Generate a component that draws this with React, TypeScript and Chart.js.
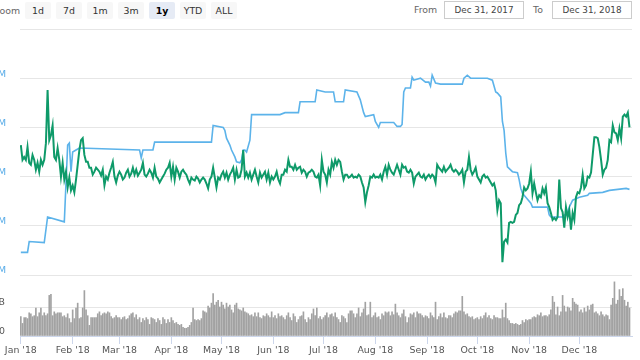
import React, { useEffect, useRef } from "react";
import { Chart, registerables } from "chart.js";

Chart.register(...registerables);

const FONT = "DejaVu Sans";
const GREEN = "#0e9a69";
const BLUE = "#5cb3ea";

// x axis: day index, 0 = Jan 1 2018
const monthStarts = [0, 31, 59, 90, 120, 151, 181, 212, 243, 273, 304, 334];
const monthLabels = ["Jan '18", "Feb '18", "Mar '18", "Apr '18", "May '18", "Jun '18", "Jul '18", "Aug '18", "Sep '18", "Oct '18", "Nov '18", "Dec '18"];

const rangeButtons = ["1d", "7d", "1m", "3m", "1y", "YTD", "ALL"];
const selectedRange = "1y";
const fromDate = "Dec 31, 2017";
const toDate = "Dec 31, 2018";

const mainTicks = [0, 50, 100, 150, 200, 250];
const volumeTicks = [0, 30, 60];

// green series, one value per day (M)
const greenValues = [
  132, 117, 120, 117, 130, 114, 112, 122, 117, 107, 114, 105, 117, 112, 117, 134, 188, 137, 142, 152, 120, 117, 129, 117, 100, 114, 97, 105, 89, 99, 86,
  91, 84, 97, 112, 127, 137, 139, 122, 115, 115, 109, 109, 102, 105, 109, 107, 105, 101, 107, 91, 100, 97, 104, 109, 115, 100, 94, 101,
  105, 102, 97, 99, 104, 107, 100, 103, 109, 102, 107, 101, 104, 107, 114, 102, 100, 103, 107, 104, 99, 109, 100, 98, 94, 97, 100, 103, 107, 109, 114,
  100, 110, 97, 109, 105, 99, 105, 107, 104, 102, 97, 93, 99, 97, 96, 100, 98, 94, 97, 99, 97, 93, 88, 97, 100, 109, 99, 89, 99, 97,
  102, 105, 99, 104, 97, 102, 105, 109, 97, 107, 99, 100, 107, 127, 100, 104, 99, 104, 97, 102, 107, 100, 94, 104, 99, 102, 105, 97, 104, 94, 100,
  97, 100, 105, 97, 93, 102, 102, 107, 105, 117, 110, 110, 107, 112, 107, 109, 110, 104, 107, 105, 100, 104, 105, 107, 105, 100, 99, 102, 91, 117,
  105, 102, 94, 107, 102, 115, 109, 117, 112, 117, 115, 105, 97, 102, 102, 99, 100, 102, 99, 100, 99, 102, 100, 94, 89, 74, 84, 91, 100, 99, 102,
  99, 100, 99, 102, 97, 105, 110, 102, 112, 107, 104, 102, 107, 112, 107, 102, 112, 109, 110, 105, 104, 107, 104, 93, 100, 102, 104, 100, 99, 102, 97,
  100, 102, 99, 102, 100, 94, 112, 109, 107, 105, 110, 105, 107, 109, 112, 107, 105, 107, 105, 102, 104, 107, 94, 105, 107, 120, 107, 102, 105, 109,
  100, 97, 94, 100, 102, 99, 100, 97, 94, 91, 93, 86, 66, 76, 73, 13, 34, 36, 33, 53, 54, 53, 54, 61, 63, 71, 73, 79, 89, 86, 88,
  93, 105, 83, 93, 84, 76, 81, 79, 88, 83, 89, 73, 69, 63, 56, 58, 56, 59, 97, 68, 64, 48, 69, 59, 66, 46, 63, 56, 79, 84,
  83, 89, 102, 88, 91, 100, 99, 104, 122, 140, 140, 139, 130, 117, 102, 107, 109, 117, 137, 135, 152, 145, 144, 137, 149, 139, 161, 163, 161, 165, 150,
];

// blue series, values at the days where it changes (M)
const blueDays = [
  0, 4, 5, 14, 16, 26, 28, 29, 30, 31, 33, 35, 71, 72, 73, 79, 80, 114, 115, 121,
  122, 123, 125, 126, 128, 129, 131, 132, 133, 134, 135, 137, 138, 155, 158, 166, 167, 176, 177, 182,
  187, 188, 193, 194, 201, 203, 205, 206, 211, 212, 214, 215, 223, 225, 227, 228, 229, 230, 233, 234,
  235, 239, 242, 244, 245, 246, 248, 251, 264, 265, 267, 269, 279, 282, 284, 285, 287, 288, 289, 290,
  291, 294, 297, 298, 299, 300, 302, 305, 306, 315, 316, 317, 324, 327, 328, 330, 334, 339, 340, 348,
  352, 357, 362, 364,
];
const blueValues = [
  23, 23, 34, 33, 59, 54, 132, 134, 105, 125, 127, 129, 127, 119, 127, 127, 135, 135, 152, 150,
  147, 139, 132, 127, 120, 115, 114, 117, 127, 127, 125, 137, 163, 163, 165, 165, 176, 176, 188, 186,
  186, 176, 176, 188, 186, 178, 165, 161, 163, 156, 150, 155, 155, 151, 151, 153, 186, 190, 190, 201,
  198, 200, 196, 196, 192, 203, 195, 194, 194, 200, 203, 200, 200, 198, 186, 185, 181, 156, 147, 124,
  110, 105, 104, 97, 88, 83, 79, 73, 69, 69, 61, 59, 59, 64, 69, 76, 79, 81, 83, 84,
  86, 87, 88, 87,
];

// daily volume (B)
const volumeValues = [
  20, 13, 19, 19, 18, 24, 23, 20, 21, 29, 20, 24, 29, 21, 24, 21, 23, 42, 43, 21, 25, 23, 24, 24, 24, 20, 21, 19, 23, 18, 14,
  27, 18, 29, 34, 18, 19, 29, 47, 27, 21, 11, 19, 19, 19, 19, 23, 25, 21, 23, 24, 23, 25, 24, 20, 18, 19, 21, 19,
  19, 17, 19, 20, 17, 18, 21, 23, 24, 19, 22, 17, 19, 14, 18, 16, 19, 17, 12, 19, 18, 17, 14, 18, 16, 12, 19, 17, 13, 17, 14,
  19, 16, 13, 14, 12, 11, 12, 9, 8, 8, 9, 11, 14, 29, 17, 16, 17, 16, 18, 26, 25, 24, 31, 29, 34, 44, 32, 35, 37, 30,
  35, 32, 28, 34, 30, 32, 27, 24, 32, 34, 28, 27, 26, 29, 25, 24, 23, 21, 22, 20, 24, 20, 24, 19, 18, 21, 20, 23, 21, 19, 25,
  19, 21, 18, 23, 20, 21, 19, 17, 21, 24, 19, 16, 23, 20, 14, 17, 20, 21, 25, 17, 14, 19, 17, 23, 28, 21, 29, 18, 20, 17,
  19, 21, 24, 19, 22, 23, 20, 24, 19, 17, 14, 21, 20, 18, 14, 23, 26, 26, 23, 19, 23, 29, 20, 24, 28, 35, 21, 22, 35, 19, 21,
  24, 19, 20, 17, 23, 21, 25, 24, 25, 21, 25, 22, 33, 24, 21, 19, 23, 27, 20, 14, 19, 23, 22, 24, 19, 25, 23, 23, 21, 19, 21,
  20, 18, 24, 21, 19, 35, 17, 20, 23, 19, 24, 19, 18, 21, 21, 19, 23, 25, 24, 26, 26, 41, 25, 22, 23, 20, 19, 20, 17, 18,
  19, 17, 20, 18, 21, 24, 19, 21, 18, 17, 21, 19, 19, 18, 18, 27, 19, 34, 18, 16, 13, 13, 12, 13, 12, 11, 12, 16, 14, 17, 16,
  17, 17, 19, 20, 19, 22, 21, 24, 20, 21, 21, 20, 22, 27, 41, 35, 22, 30, 21, 25, 42, 31, 25, 30, 29, 26, 39, 35, 33, 32,
  25, 27, 24, 29, 25, 31, 27, 32, 33, 24, 25, 23, 21, 25, 22, 20, 22, 21, 17, 32, 39, 56, 33, 37, 48, 41, 49, 37, 31, 35, 29,
];

const X_MIN = -0.5;
const X_MAX = 365.5;

export default function App() {
  const mainRef = useRef<HTMLCanvasElement | null>(null);
  const volRef = useRef<HTMLCanvasElement | null>(null);

  useEffect(() => {
    if (!mainRef.current || !volRef.current) return;
    const tickFont = { family: FONT, size: 9.4 };

    const main = new Chart(mainRef.current, {
      type: "line",
      data: {
        datasets: [
          {
            data: greenValues.map((v, i) => ({ x: i, y: v })),
            borderColor: GREEN,
            borderWidth: 2,
            pointRadius: 0,
            tension: 0,
          },
          {
            data: blueDays.map((d, i) => ({ x: d, y: blueValues[i] })),
            borderColor: BLUE,
            borderWidth: 1.6,
            pointRadius: 0,
            tension: 0,
          },
        ],
      },
      options: {
        responsive: false,
        animation: false,
        events: [],
        layout: { padding: { left: 0, right: 8, top: 9, bottom: 5 } },
        plugins: { legend: { display: false }, tooltip: { enabled: false } },
        scales: {
          x: { type: "linear", min: X_MIN, max: X_MAX, display: false },
          y: {
            min: mainTicks[0],
            max: mainTicks[mainTicks.length - 1],
            afterBuildTicks: (s: any) => {
              s.ticks = mainTicks.map((v) => ({ value: v }));
            },
            afterFit: (s: any) => {
              s.width = 60;
              s.paddingTop = 0;
              s.paddingBottom = 0;
            },
            grid: { color: "#e6e6e6", drawTicks: false, lineWidth: 1 },
            border: { display: false },
            ticks: {
              padding: 14,
              labelOffset: -4,
              color: "#58ace8",
              font: tickFont,
              callback: (v: any) => (v === mainTicks[mainTicks.length - 1] ? "" : v + "M"),
            },
          },
        },
      },
    } as any);

    const vol = new Chart(volRef.current, {
      type: "bar",
      data: {
        datasets: [
          {
            data: volumeValues.map((v, i) => ({ x: i, y: v })),
            backgroundColor: "#a2a2a2",
            borderWidth: 0,
            barThickness: 1,
          },
        ],
      },
      options: {
        responsive: false,
        animation: false,
        events: [],
        layout: { padding: { left: 0, right: 8, top: 2, bottom: 0 } },
        plugins: { legend: { display: false }, tooltip: { enabled: false } },
        scales: {
          x: {
            type: "linear",
            min: X_MIN,
            max: X_MAX,
            offset: false,
            afterBuildTicks: (s: any) => {
              s.ticks = monthStarts.map((v) => ({ value: v }));
            },
            afterFit: (s: any) => {
              s.height = 24;
              s.paddingLeft = 0;
              s.paddingRight = 0;
            },
            grid: { display: true, drawOnChartArea: false, drawTicks: true, tickLength: 8, tickColor: "#ccd6eb", offset: false },
            border: { display: true, color: "#ccd6eb" },
            ticks: {
              autoSkip: false,
              maxRotation: 0,
              padding: 1,
              color: "#555",
              font: tickFont,
              callback: (v: any) => {
                const k = monthStarts.indexOf(v);
                return k >= 0 ? monthLabels[k] : "";
              },
            },
          },
          y: {
            min: volumeTicks[0],
            max: volumeTicks[volumeTicks.length - 1],
            afterBuildTicks: (s: any) => {
              s.ticks = volumeTicks.map((v) => ({ value: v }));
            },
            afterFit: (s: any) => {
              s.width = 60;
              s.paddingTop = 0;
              s.paddingBottom = 0;
            },
            grid: {
              drawTicks: false,
              color: (ctx: any) => (ctx.tick && ctx.tick.value === volumeTicks[1] ? "#e6e6e6" : "rgba(0,0,0,0)"),
            },
            border: { display: false },
            ticks: {
              padding: 15,
              labelOffset: -4,
              color: "#555",
              font: tickFont,
              callback: (v: any) =>
                v === 0 ? "0" : v === volumeTicks[volumeTicks.length - 1] ? "" : v + "B",
            },
          },
        },
      },
    } as any);

    return () => {
      main.destroy();
      vol.destroy();
    };
  }, []);

  const textBase: React.CSSProperties = {
    position: "absolute",
    fontFamily: FONT,
    fontSize: 9.4,
    lineHeight: "17px",
    whiteSpace: "nowrap",
  };

  return (
    <div
      style={{
        position: "fixed",
        left: 0,
        top: 0,
        width: 640,
        height: 360,
        overflow: "hidden",
        background: "#fff",
        fontFamily: FONT,
      }}
    >
      <div style={{ ...textBase, left: -7, top: 2, color: "#666" }}>Zoom</div>
      {rangeButtons.map((b, i) => {
        const sel = b === selectedRange;
        return (
          <div
            key={b}
            style={{
              ...textBase,
              left: 25 + 31 * i,
              top: 2,
              width: 26,
              height: 17,
              textAlign: "center",
              background: sel ? "#e6ebf5" : "#f7f7f7",
              borderRadius: 2,
              color: sel ? "#000" : "#333",
              fontWeight: sel ? "bold" : "normal",
            }}
          >
            {b}
          </div>
        );
      })}
      <div style={{ ...textBase, left: 414, top: 1, color: "#666" }}>From</div>
      <div
        style={{
          ...textBase,
          left: 444,
          top: 1,
          width: 80,
          height: 18,
          boxSizing: "border-box",
          border: "1px solid #cccccc",
          textAlign: "center",
          fontSize: 8.8,
          lineHeight: "16px",
          color: "#444",
        }}
      >
        {fromDate}
      </div>
      <div style={{ ...textBase, left: 533, top: 1, color: "#666" }}>To</div>
      <div
        style={{
          ...textBase,
          left: 552,
          top: 1,
          width: 80,
          height: 18,
          boxSizing: "border-box",
          border: "1px solid #cccccc",
          textAlign: "center",
          fontSize: 8.8,
          lineHeight: "16px",
          color: "#444",
        }}
      >
        {toDate}
      </div>
      <canvas
        ref={mainRef}
        width={680}
        height={260}
        style={{ position: "absolute", left: -40, top: 20, width: 680, height: 260 }}
      />
      <canvas
        ref={volRef}
        width={680}
        height={84}
        style={{ position: "absolute", left: -40, top: 276, width: 680, height: 84 }}
      />
    </div>
  );
}
